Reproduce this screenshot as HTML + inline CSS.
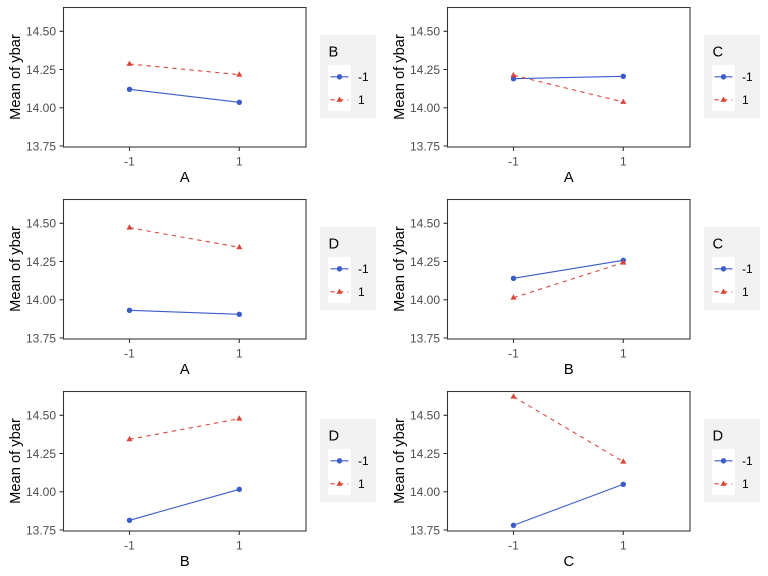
<!DOCTYPE html>
<html><head><meta charset="utf-8"><style>
html,body{margin:0;padding:0;background:#fff;}
svg{display:block;font-family:"Liberation Sans",Arial,sans-serif;}
.tl{font-size:12px;fill:#4d4d4d;}
.tt{font-size:14.7px;fill:#000;}
.lt{font-size:12px;fill:#000;}
.bd{fill:#fff;stroke:#333;stroke-width:1.07;}
.tk{stroke:#333;stroke-width:1.07;fill:none;}
.bl{stroke:#3a5bc8;stroke-width:1.07;fill:none;}
.rl{stroke:#d9463b;stroke-width:1.07;fill:none;stroke-dasharray:4.3 4.3;}
.bp{fill:#3a5bc8;}
.rp{fill:#d9463b;}
</style></head><body>
<svg width="768" height="576" viewBox="0 0 768 576" xmlns="http://www.w3.org/2000/svg">
<rect width="768" height="576" fill="#fff"/>

<!-- Panel 1: A x B -->
<g transform="translate(0,0)">
<rect class="bd" x="63.5" y="7.5" width="242.5" height="139.5"/>
<path class="tk" d="M59.5 31.3H63.5M59.5 69.5H63.5M59.5 107.8H63.5M59.5 146H63.5M129.5 147V151M239.3 147V151"/>
<text class="tl" x="56" y="35.6" text-anchor="end">14.50</text>
<text class="tl" x="56" y="73.8" text-anchor="end">14.25</text>
<text class="tl" x="56" y="112.1" text-anchor="end">14.00</text>
<text class="tl" x="56" y="150.3" text-anchor="end">13.75</text>
<text class="tl" x="129.5" y="165.4" text-anchor="middle">-1</text>
<text class="tl" x="239.3" y="165.4" text-anchor="middle">1</text>
<text class="tt" x="184.8" y="182" text-anchor="middle">A</text>
<text class="tt" transform="translate(19.8,77) rotate(-90)" text-anchor="middle">Mean of ybar</text>
<path class="bl" d="M129.5 89.3L239.3 102.3"/>
<path class="rl" d="M129.5 64L239.3 74.7"/>
<circle class="bp" cx="129.5" cy="89.3" r="2.7"/><circle class="bp" cx="239.3" cy="102.3" r="2.7"/>
<path class="rp" d="M129.5 60.6L132.6 65.9L126.4 65.9Z"/><path class="rp" d="M239.3 71.3L242.4 76.6L236.2 76.6Z"/>
<rect x="320" y="35" width="56" height="83" fill="#f2f2f2"/>
<text class="tt" x="328.5" y="56.5">B</text>
<rect x="328" y="65" width="23" height="23" fill="#fff"/><rect x="328" y="88" width="23" height="23" fill="#fff"/>
<path class="bl" d="M330.5 76.8H348.5"/><circle class="bp" cx="339.5" cy="76.8" r="2.7"/>
<path class="rl" d="M330.5 99.8H348.5"/><path class="rp" d="M339.5 96.5L342.6 101.8L336.4 101.8Z"/>
<text class="lt" x="358" y="81.1">-1</text>
<text class="lt" x="358" y="104.1">1</text>
</g>

<!-- Panel 2: A x C -->
<g transform="translate(384,0)">
<rect class="bd" x="63.5" y="7.5" width="242.5" height="139.5"/>
<path class="tk" d="M59.5 31.3H63.5M59.5 69.5H63.5M59.5 107.8H63.5M59.5 146H63.5M129.5 147V151M239.3 147V151"/>
<text class="tl" x="56" y="35.6" text-anchor="end">14.50</text>
<text class="tl" x="56" y="73.8" text-anchor="end">14.25</text>
<text class="tl" x="56" y="112.1" text-anchor="end">14.00</text>
<text class="tl" x="56" y="150.3" text-anchor="end">13.75</text>
<text class="tl" x="129.5" y="165.4" text-anchor="middle">-1</text>
<text class="tl" x="239.3" y="165.4" text-anchor="middle">1</text>
<text class="tt" x="184.8" y="182" text-anchor="middle">A</text>
<text class="tt" transform="translate(19.8,77) rotate(-90)" text-anchor="middle">Mean of ybar</text>
<path class="bl" d="M129.5 78.7L239.3 76.3"/>
<path class="rl" d="M129.5 75.3L239.3 102"/>
<circle class="bp" cx="129.5" cy="78.7" r="2.7"/><circle class="bp" cx="239.3" cy="76.3" r="2.7"/>
<path class="rp" d="M129.5 71.9L132.6 77.2L126.4 77.2Z"/><path class="rp" d="M239.3 98.6L242.4 103.9L236.2 103.9Z"/>
<rect x="320" y="35" width="56" height="83" fill="#f2f2f2"/>
<text class="tt" x="328.5" y="56.5">C</text>
<rect x="328" y="65" width="23" height="23" fill="#fff"/><rect x="328" y="88" width="23" height="23" fill="#fff"/>
<path class="bl" d="M330.5 76.8H348.5"/><circle class="bp" cx="339.5" cy="76.8" r="2.7"/>
<path class="rl" d="M330.5 99.8H348.5"/><path class="rp" d="M339.5 96.5L342.6 101.8L336.4 101.8Z"/>
<text class="lt" x="358" y="81.1">-1</text>
<text class="lt" x="358" y="104.1">1</text>
</g>

<!-- Panel 3: A x D -->
<g transform="translate(0,192)">
<rect class="bd" x="63.5" y="7.5" width="242.5" height="139.5"/>
<path class="tk" d="M59.5 31.3H63.5M59.5 69.5H63.5M59.5 107.8H63.5M59.5 146H63.5M129.5 147V151M239.3 147V151"/>
<text class="tl" x="56" y="35.6" text-anchor="end">14.50</text>
<text class="tl" x="56" y="73.8" text-anchor="end">14.25</text>
<text class="tl" x="56" y="112.1" text-anchor="end">14.00</text>
<text class="tl" x="56" y="150.3" text-anchor="end">13.75</text>
<text class="tl" x="129.5" y="165.4" text-anchor="middle">-1</text>
<text class="tl" x="239.3" y="165.4" text-anchor="middle">1</text>
<text class="tt" x="184.8" y="182" text-anchor="middle">A</text>
<text class="tt" transform="translate(19.8,77) rotate(-90)" text-anchor="middle">Mean of ybar</text>
<path class="bl" d="M129.5 118.3L239.3 122.3"/>
<path class="rl" d="M129.5 35.7L239.3 55.3"/>
<circle class="bp" cx="129.5" cy="118.3" r="2.7"/><circle class="bp" cx="239.3" cy="122.3" r="2.7"/>
<path class="rp" d="M129.5 32.3L132.6 37.6L126.4 37.6Z"/><path class="rp" d="M239.3 51.9L242.4 57.2L236.2 57.2Z"/>
<rect x="320" y="35" width="56" height="83" fill="#f2f2f2"/>
<text class="tt" x="328.5" y="56.5">D</text>
<rect x="328" y="65" width="23" height="23" fill="#fff"/><rect x="328" y="88" width="23" height="23" fill="#fff"/>
<path class="bl" d="M330.5 76.8H348.5"/><circle class="bp" cx="339.5" cy="76.8" r="2.7"/>
<path class="rl" d="M330.5 99.8H348.5"/><path class="rp" d="M339.5 96.5L342.6 101.8L336.4 101.8Z"/>
<text class="lt" x="358" y="81.1">-1</text>
<text class="lt" x="358" y="104.1">1</text>
</g>

<!-- Panel 4: B x C -->
<g transform="translate(384,192)">
<rect class="bd" x="63.5" y="7.5" width="242.5" height="139.5"/>
<path class="tk" d="M59.5 31.3H63.5M59.5 69.5H63.5M59.5 107.8H63.5M59.5 146H63.5M129.5 147V151M239.3 147V151"/>
<text class="tl" x="56" y="35.6" text-anchor="end">14.50</text>
<text class="tl" x="56" y="73.8" text-anchor="end">14.25</text>
<text class="tl" x="56" y="112.1" text-anchor="end">14.00</text>
<text class="tl" x="56" y="150.3" text-anchor="end">13.75</text>
<text class="tl" x="129.5" y="165.4" text-anchor="middle">-1</text>
<text class="tl" x="239.3" y="165.4" text-anchor="middle">1</text>
<text class="tt" x="184.8" y="182" text-anchor="middle">B</text>
<text class="tt" transform="translate(19.8,77) rotate(-90)" text-anchor="middle">Mean of ybar</text>
<path class="bl" d="M129.5 86.3L239.3 68.3"/>
<path class="rl" d="M129.5 105.7L239.3 70.7"/>
<circle class="bp" cx="129.5" cy="86.3" r="2.7"/><circle class="bp" cx="239.3" cy="68.3" r="2.7"/>
<path class="rp" d="M129.5 102.3L132.6 107.6L126.4 107.6Z"/><path class="rp" d="M239.3 67.3L242.4 72.6L236.2 72.6Z"/>
<rect x="320" y="35" width="56" height="83" fill="#f2f2f2"/>
<text class="tt" x="328.5" y="56.5">C</text>
<rect x="328" y="65" width="23" height="23" fill="#fff"/><rect x="328" y="88" width="23" height="23" fill="#fff"/>
<path class="bl" d="M330.5 76.8H348.5"/><circle class="bp" cx="339.5" cy="76.8" r="2.7"/>
<path class="rl" d="M330.5 99.8H348.5"/><path class="rp" d="M339.5 96.5L342.6 101.8L336.4 101.8Z"/>
<text class="lt" x="358" y="81.1">-1</text>
<text class="lt" x="358" y="104.1">1</text>
</g>

<!-- Panel 5: B x D -->
<g transform="translate(0,384)">
<rect class="bd" x="63.5" y="7.5" width="242.5" height="139.5"/>
<path class="tk" d="M59.5 31.3H63.5M59.5 69.5H63.5M59.5 107.8H63.5M59.5 146H63.5M129.5 147V151M239.3 147V151"/>
<text class="tl" x="56" y="35.6" text-anchor="end">14.50</text>
<text class="tl" x="56" y="73.8" text-anchor="end">14.25</text>
<text class="tl" x="56" y="112.1" text-anchor="end">14.00</text>
<text class="tl" x="56" y="150.3" text-anchor="end">13.75</text>
<text class="tl" x="129.5" y="165.4" text-anchor="middle">-1</text>
<text class="tl" x="239.3" y="165.4" text-anchor="middle">1</text>
<text class="tt" x="184.8" y="182" text-anchor="middle">B</text>
<text class="tt" transform="translate(19.8,77) rotate(-90)" text-anchor="middle">Mean of ybar</text>
<path class="bl" d="M129.5 136.3L239.3 105.3"/>
<path class="rl" d="M129.5 55.3L239.3 34.7"/>
<circle class="bp" cx="129.5" cy="136.3" r="2.7"/><circle class="bp" cx="239.3" cy="105.3" r="2.7"/>
<path class="rp" d="M129.5 51.9L132.6 57.2L126.4 57.2Z"/><path class="rp" d="M239.3 31.3L242.4 36.6L236.2 36.6Z"/>
<rect x="320" y="35" width="56" height="83" fill="#f2f2f2"/>
<text class="tt" x="328.5" y="56.5">D</text>
<rect x="328" y="65" width="23" height="23" fill="#fff"/><rect x="328" y="88" width="23" height="23" fill="#fff"/>
<path class="bl" d="M330.5 76.8H348.5"/><circle class="bp" cx="339.5" cy="76.8" r="2.7"/>
<path class="rl" d="M330.5 99.8H348.5"/><path class="rp" d="M339.5 96.5L342.6 101.8L336.4 101.8Z"/>
<text class="lt" x="358" y="81.1">-1</text>
<text class="lt" x="358" y="104.1">1</text>
</g>

<!-- Panel 6: C x D -->
<g transform="translate(384,384)">
<rect class="bd" x="63.5" y="7.5" width="242.5" height="139.5"/>
<path class="tk" d="M59.5 31.3H63.5M59.5 69.5H63.5M59.5 107.8H63.5M59.5 146H63.5M129.5 147V151M239.3 147V151"/>
<text class="tl" x="56" y="35.6" text-anchor="end">14.50</text>
<text class="tl" x="56" y="73.8" text-anchor="end">14.25</text>
<text class="tl" x="56" y="112.1" text-anchor="end">14.00</text>
<text class="tl" x="56" y="150.3" text-anchor="end">13.75</text>
<text class="tl" x="129.5" y="165.4" text-anchor="middle">-1</text>
<text class="tl" x="239.3" y="165.4" text-anchor="middle">1</text>
<text class="tt" x="184.8" y="182" text-anchor="middle">C</text>
<text class="tt" transform="translate(19.8,77) rotate(-90)" text-anchor="middle">Mean of ybar</text>
<path class="bl" d="M129.5 141.3L239.3 100.3"/>
<path class="rl" d="M129.5 12.7L239.3 77.7"/>
<circle class="bp" cx="129.5" cy="141.3" r="2.7"/><circle class="bp" cx="239.3" cy="100.3" r="2.7"/>
<path class="rp" d="M129.5 9.3L132.6 14.6L126.4 14.6Z"/><path class="rp" d="M239.3 74.3L242.4 79.6L236.2 79.6Z"/>
<rect x="320" y="35" width="56" height="83" fill="#f2f2f2"/>
<text class="tt" x="328.5" y="56.5">D</text>
<rect x="328" y="65" width="23" height="23" fill="#fff"/><rect x="328" y="88" width="23" height="23" fill="#fff"/>
<path class="bl" d="M330.5 76.8H348.5"/><circle class="bp" cx="339.5" cy="76.8" r="2.7"/>
<path class="rl" d="M330.5 99.8H348.5"/><path class="rp" d="M339.5 96.5L342.6 101.8L336.4 101.8Z"/>
<text class="lt" x="358" y="81.1">-1</text>
<text class="lt" x="358" y="104.1">1</text>
</g>
</svg>
</body></html>
